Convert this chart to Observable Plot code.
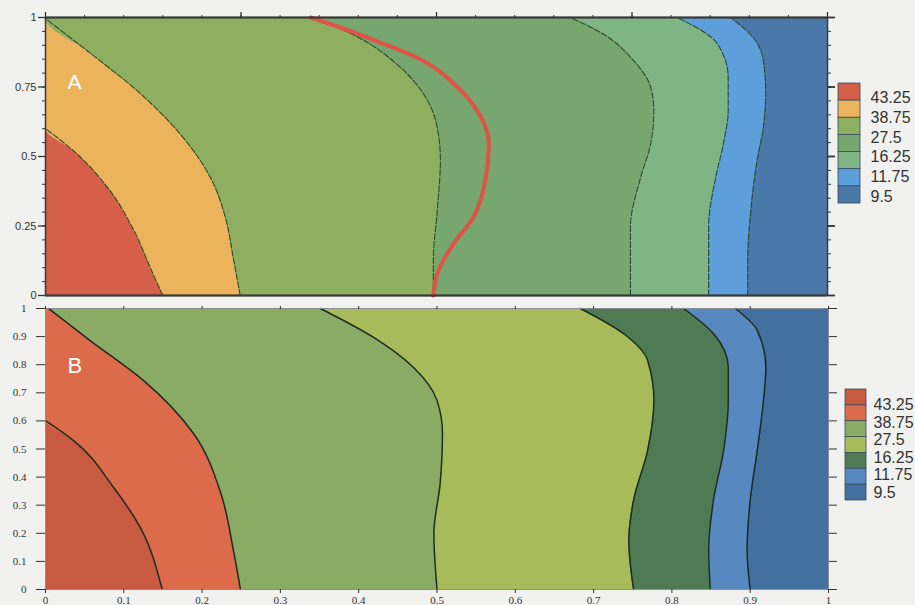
<!DOCTYPE html>
<html><head><meta charset="utf-8">
<script src="https://cdn.jsdelivr.net/npm/d3@7"></script>
<script src="https://cdn.jsdelivr.net/npm/@observablehq/plot@0.6"></script>
<style>
body{margin:0;background:#f1f1ef;}
#wrap{position:relative;width:915px;height:605px;overflow:hidden;background:#f1f1ef;}
#wrap > svg, #wrap > figure{position:absolute;margin:0;}
</style></head><body><div id="wrap"></div>
<script>
// ---------- data ----------
const levelLabels = ["43.25", "38.75", "27.5", "16.25", "11.75", "9.5"];
const colorsA = ["#d65f4a", "#ebb35c", "#8eaf5f", "#77a76e", "#7fb585", "#5c9fda", "#4a78a9"];
const colorsB = ["#c85a42", "#dc6b4b", "#8aab63", "#a7bb5a", "#4e7b53", "#5888c0", "#43709e"];
const ticksA = [0, 0.25, 0.5, 0.75, 1];
const ticksB = [0, 0.1, 0.2, 0.3, 0.4, 0.5, 0.6, 0.7, 0.8, 0.9, 1];

// contour boundaries, [y, x] pairs (x of boundary at height y)
const boundaryA1 = [[0,0.150],[0.10,0.134],[0.234,0.113],[0.39,0.079],[0.52,0.036],[0.60,0.0]];
const boundaryA2 = [[0,0.249],[0.137,0.240],[0.281,0.230],[0.424,0.211],[0.568,0.176],[0.727,0.121],[0.87,0.058],[0.996,0.0]];
const boundaryA3 = [[0,0.496],[0.126,0.496],[0.306,0.501],[0.486,0.505],[0.604,0.501],[0.727,0.483],[0.82,0.454],[0.93,0.399],[1,0.343]];
const boundaryA4 = [[0,0.748],[0.245,0.748],[0.424,0.761],[0.547,0.774],[0.665,0.778],[0.748,0.774],[0.845,0.752],[0.946,0.71],[1,0.671]];
const boundaryA5 = [[0,0.848],[0.245,0.848],[0.424,0.857],[0.547,0.867],[0.665,0.873],[0.784,0.873],[0.906,0.859],[1,0.808]];
const boundaryA6 = [[0,0.898],[0.126,0.898],[0.306,0.902],[0.486,0.910],[0.604,0.918],[0.727,0.921],[0.845,0.918],[0.928,0.905],[1,0.876]];
const redLineA = [[0,0.496],[0.079,0.501],[0.187,0.522],[0.281,0.547],[0.424,0.563],[0.547,0.567],[0.665,0.552],[0.763,0.522],[0.849,0.480],[0.910,0.428],[0.964,0.377],[1,0.339]];

const boundaryB1 = [[0,0.149],[0.221,0.121],[0.363,0.087],[0.530,0.036],[0.601,0.0]];
const boundaryB2 = [[0,0.249],[0.139,0.240],[0.342,0.224],[0.555,0.189],[0.744,0.125],[0.886,0.057],[1,0.004]];
const boundaryB3 = [[0,0.5],[0.199,0.496],[0.377,0.504],[0.555,0.507],[0.673,0.5],[0.79,0.47],[0.897,0.419],[1,0.351]];
const boundaryB4 = [[0,0.751],[0.174,0.745],[0.317,0.751],[0.495,0.769],[0.673,0.777],[0.815,0.769],[0.911,0.738],[1,0.683]];
const boundaryB5 = [[0,0.849],[0.139,0.847],[0.317,0.853],[0.495,0.866],[0.673,0.872],[0.79,0.872],[0.911,0.853],[1,0.815]];
const boundaryB6 = [[0,0.9],[0.139,0.896],[0.317,0.9],[0.495,0.909],[0.673,0.917],[0.79,0.92],[0.922,0.909],[1,0.881]];

const boundariesA = [boundaryA1, boundaryA2, boundaryA3, boundaryA4, boundaryA5, boundaryA6];
const boundariesB = [boundaryB1, boundaryB2, boundaryB3, boundaryB4, boundaryB5, boundaryB6];

// ---------- helpers ----------
const minorA = d3.range(0, 21).map(i => +(i * 0.05).toFixed(2));
const wrap = document.getElementById("wrap");
const noLabel = () => "";
const sans = "Liberation Sans, Arial, sans-serif";
const serif = "Liberation Serif, Times New Roman, serif";

function regionMarks(bounds, colors, lineStyle) {
  const marks = [Plot.frame({fill: colors[colors.length - 1], stroke: null})];
  for (let k = bounds.length - 1; k >= 0; k--) {
    const b = bounds[k];
    const data = b[b.length - 1][0] < 1 ? [...b, [1, 0]] : b;
    marks.push(Plot.areaX(data, {y: d => d[0], x1: 0, x2: d => d[1], fill: colors[k], curve: "monotone-y"}));
  }
  for (const b of bounds) {
    marks.push(Plot.line(b, {y: d => d[0], x: d => d[1], curve: "monotone-y", ...lineStyle}));
  }
  return marks;
}

function place(el, left, top) {
  el.style.left = left + "px";
  el.style.top = top + "px";
  wrap.appendChild(el);
}

// ---------- panel A ----------
const plotA = Plot.plot({
  width: 840, height: 305,
  marginLeft: 45, marginRight: 13, marginTop: 17, marginBottom: 10,
  style: {background: "transparent", fontFamily: sans, color: "#333"},
  x: {domain: [0, 1], label: null},
  y: {domain: [0, 1], label: null},
  marks: [
    ...regionMarks(boundariesA, colorsA, {stroke: "#2e4a2c", strokeWidth: 1.1, strokeDasharray: "6,2"}),
    Plot.line(redLineA, {y: d => d[0], x: d => d[1], curve: "monotone-y", stroke: "#df5247", strokeWidth: 4, strokeLinecap: "round"}),
    Plot.frame({stroke: "#3a3a3a", strokeWidth: 1.5}),
    Plot.ruleY([1, 0], {stroke: "#3a3a3a", strokeWidth: 2.2}),
    Plot.axisY({anchor: "left", ticks: ticksA, tickSize: 7, tickPadding: 2, tickFormat: d => String(d), fontSize: 11, fontFamily: sans, strokeWidth: 1.3, color: "#333"}),
    Plot.axisY({anchor: "left", ticks: minorA, tickSize: 3, tickFormat: noLabel}),
    Plot.axisY({anchor: "right", ticks: ticksA, tickSize: 7, strokeWidth: 1.8, tickFormat: noLabel}),
    Plot.axisY({anchor: "right", ticks: minorA, tickSize: 3, tickFormat: noLabel}),
    Plot.axisX({anchor: "top", ticks: ticksA, tickSize: 6, strokeWidth: 1.3, tickFormat: noLabel}),
    Plot.axisX({anchor: "top", ticks: minorA, tickSize: 3, tickFormat: noLabel}),
    Plot.text(["A"], {frameAnchor: "top-left", dx: 22, dy: 57, lineAnchor: "top", text: d => d, fill: "white", fontSize: 21, fontFamily: sans})
  ]
});
place(plotA, 0, 0);

// ---------- panel B ----------
const plotB = Plot.plot({
  width: 845, height: 305,
  marginLeft: 45, marginRight: 17, marginTop: 8, marginBottom: 16,
  style: {background: "transparent", fontFamily: serif, color: "#333"},
  x: {domain: [0, 1], label: null},
  y: {domain: [0, 1], label: null},
  marks: [
    ...regionMarks(boundariesB, colorsB, {stroke: "#1f2b1f", strokeWidth: 1.5}),
    Plot.frame({stroke: "#8a8f95", strokeWidth: 1}),
    Plot.axisY({anchor: "left", ticks: ticksB, tickSize: 9, tickPadding: 10, tickFormat: d => String(d), fontSize: 11, fontFamily: serif, color: "#333"}),
    Plot.axisY({anchor: "right", ticks: ticksB, tickSize: 8, tickFormat: noLabel}),
    Plot.axisX({anchor: "top", ticks: ticksB, tickSize: 3, tickFormat: noLabel}),
    Plot.axisX({anchor: "bottom", ticks: ticksB, tickSize: 4, tickPadding: 3, tickFormat: d => String(d), fontSize: 11, fontFamily: serif, color: "#333"}),
    Plot.text(["B"], {frameAnchor: "top-left", dx: 22, dy: 49, lineAnchor: "top", text: d => d, fill: "white", fontSize: 22, fontFamily: sans})
  ]
});
place(plotB, 0, 300);

// ---------- legends ----------
function legend(colors, w, h, mTop, mBottom, mLeft, boxW, labelStart, labelStep, gap) {
  return Plot.plot({
    width: w, height: h,
    marginLeft: mLeft, marginRight: w - mLeft - boxW, marginTop: mTop, marginBottom: mBottom,
    style: {background: "transparent", fontFamily: sans},
    x: {domain: [0, 1], axis: null},
    y: {domain: [7, 0], axis: null},
    marks: [
      Plot.rect(colors, {x1: 0, x2: 1, y1: (d, i) => i, y2: (d, i) => i + 1, fill: d => d, stroke: "#3d4a5a", strokeWidth: 0.8}),
      Plot.text(levelLabels, {x: 1, y: (d, i) => labelStart + labelStep * i, text: d => d, textAnchor: "start", dx: gap, fontSize: 16, fill: "#333", fontFamily: sans})
    ]
  });
}
place(legend(colorsA, 85, 135, 8, 7, 8, 22, 0.85, 1.15, 10), 830, 75);
place(legend(colorsB, 80, 125, 9, 5, 5, 21, 1.0, 1.1, 7), 840, 380);
</script></body></html>
